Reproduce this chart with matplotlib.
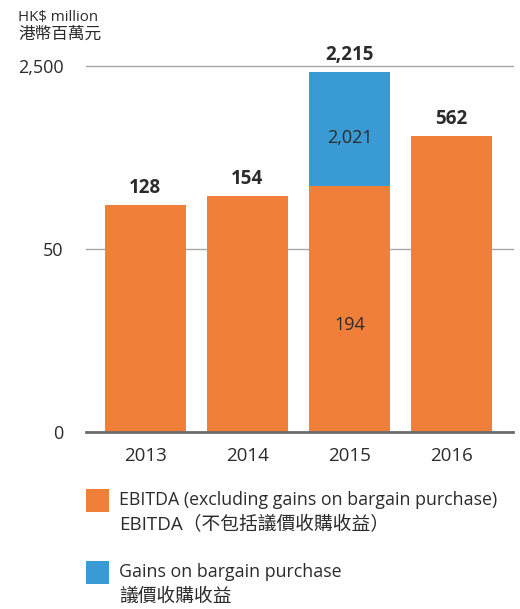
import numpy as np
import matplotlib; matplotlib.use('Agg')
import matplotlib.pyplot as plt
from matplotlib.patches import Rectangle

years = ['2013', '2014', '2015', '2016']
ebitda = [128, 154, 194, 562]
gains = [0, 0, 2021, 0]
totals = [128, 154, 2215, 562]
yticks = [0, 50, 2500]
ytick_labels = ['0', '50', '2,500']

ORANGE = '#F07F3A'
BLUE = '#3A9AD3'
TXT = '#2b2b2b'
FONT = ['Open Sans', 'Noto Sans CJK TC', 'DejaVu Sans']
plt.rcParams['font.family'] = FONT

# broken scale: linear 0-50, log 50-2500, each half the height
def fwd(y):
    y = np.asarray(y, dtype=float)
    with np.errstate(divide='ignore', invalid='ignore'):
        return np.where(y <= 50, y / 50, 1 + np.log10(np.maximum(y, 1e-9) / 50) / np.log10(50))

def inv(t):
    t = np.asarray(t, dtype=float)
    return np.where(t <= 1, 50 * t, 50 * 50 ** (t - 1))

fig = plt.figure(figsize=(5.2, 6.09), dpi=100)
ax = fig.add_axes([86 / 520, 1 - 432 / 609, 427 / 520, 366 / 609])
ax.set_yscale('function', functions=(fwd, inv))

x = np.arange(len(years))
ax.bar(x, ebitda, width=0.79, color=ORANGE, zorder=2)
ax.bar(x, gains, bottom=ebitda, width=0.79, color=BLUE, zorder=2)

ax.set_ylim(0, 2500)
ax.set_xlim(-0.58, 3.6)
ax.set_yticks(yticks)
ax.set_yticklabels(ytick_labels)
ax.yaxis.set_minor_locator(plt.NullLocator())
ax.set_xticks(x)
ax.set_xticklabels(years)
ax.tick_params(axis='y', length=0, pad=16, labelsize=13, labelcolor=TXT)
ax.tick_params(axis='x', length=0, pad=11, labelsize=13.5, labelcolor=TXT)
for s in ['top', 'right', 'left']:
    ax.spines[s].set_visible(False)
ax.spines['bottom'].set_color('#6b6b6b')
ax.spines['bottom'].set_linewidth(2)
ax.spines['bottom'].set_zorder(3)
for yv in yticks[1:]:
    ax.axhline(yv, color='#a8a8a8', lw=1, zorder=1, clip_on=False)

for xi, tot in zip(x, totals):
    ax.annotate(f'{tot:,}', (xi, tot), xytext=(0, 5), textcoords='offset points',
                ha='center', va='bottom', fontsize=13.5, fontweight='bold',
                color=TXT, annotation_clip=False)

tr = ax.get_xaxis_transform()
ax.text(2, 0.292, f'{ebitda[2]:,}', transform=tr, ha='center', va='center',
        fontsize=13, color=TXT)
ax.text(2, 0.803, f'{gains[2]:,}', transform=tr, ha='center', va='center',
        fontsize=13, color=TXT)

fig.text(18 / 520, 1 - 18 / 609, 'HK$ million', fontsize=10.8, color=TXT, va='center')
fig.text(18 / 520, 1 - 35 / 609, '港幣百萬元', fontsize=12, color=TXT, va='center')

legend_items = [
    (ORANGE, 'EBITDA (excluding gains on bargain purchase)', 'EBITDA（不包括議價收購收益）', 489),
    (BLUE, 'Gains on bargain purchase', '議價收購收益', 561),
]
for col, en, zh, ytop in legend_items:
    fig.add_artist(Rectangle((86 / 520, 1 - (ytop + 23) / 609), 23 / 520, 23 / 609,
                             transform=fig.transFigure, color=col, lw=0))
    fig.text(119 / 520, 1 - (ytop + 11) / 609, en, fontsize=12.8, color=TXT, va='center')
    fig.text(119 / 520, 1 - (ytop + 36) / 609, zh, fontsize=13.5, color=TXT, va='center')

fig.savefig('out.png', dpi=100)
